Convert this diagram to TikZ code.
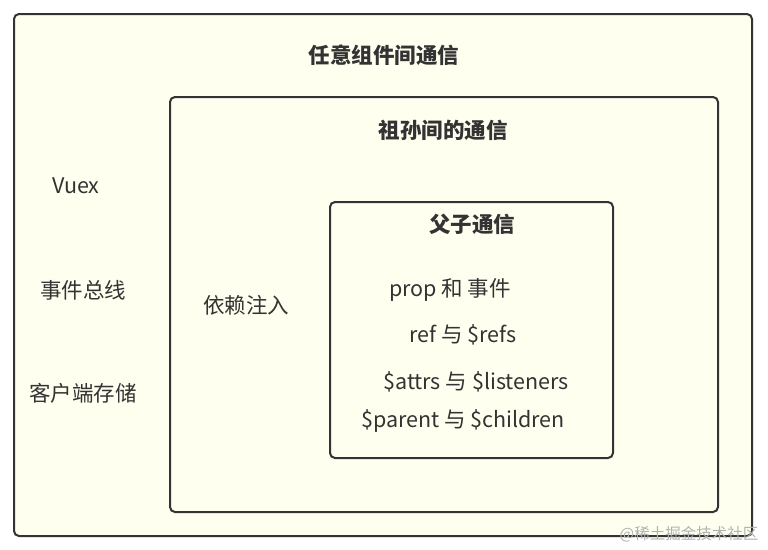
\documentclass[tikz,border=0pt]{standalone}
\usepackage{fontspec}
\setmainfont{Noto Sans CJK SC}
\usepackage{tikz}

\definecolor{boxfill}{HTML}{FFFFF0}
\definecolor{boxline}{HTML}{333333}

\begin{document}
\begin{tikzpicture}[x=1pt,y=-1pt,
	frame/.style={shape=rectangle,draw=boxline,fill=boxfill,line width=2pt,rounded corners=5pt,inner sep=0pt},
	title/.style={font=\fontsize{21.5}{24}\selectfont\bfseries,text=boxline},
	item/.style={font=\fontsize{21.5}{24}\selectfont,text=boxline}]

	\useasboundingbox (0,0) rectangle (768,549);
	\fill[white] (0,0) rectangle (768,549);

	\node[frame,minimum width=738pt,minimum height=522pt] (any)    at (383, 275)   {};
	\node[frame,minimum width=548pt,minimum height=415pt] (grand)  at (444, 304.5) {};
	\node[frame,minimum width=283pt,minimum height=256pt] (parent) at (471.5, 330) {};

	\node[title] (anyT)    at (384, 55)  {任意组件间通信};
	\node[title] (grandT)  at (443, 130) {祖孙间的通信};
	\node[title] (parentT) at (472, 224) {父子通信};

	\node[item] (vuex)  at (76, 186) {Vuex};
	\node[item] (bus)   at (83, 290) {事件总线};
	\node[item] (store) at (83, 393) {客户端存储};

	\node[item] (inject) at (246, 305) {依赖注入};

	\node[item] (prop)  at (450, 290) {prop 和 事件};
	\node[item] (refs)  at (463, 335) {ref 与 \$refs};
	\node[item] (attrs) at (476, 382) {\$attrs 与 \$listeners};
	\node[item] (child) at (463, 421) {\$parent 与 \$children};

	\node[font=\fontsize{15.5}{17}\selectfont,text=black!30] (mark) at (689, 534) {@稀土掘金技术社区};

\end{tikzpicture}
\end{document}
